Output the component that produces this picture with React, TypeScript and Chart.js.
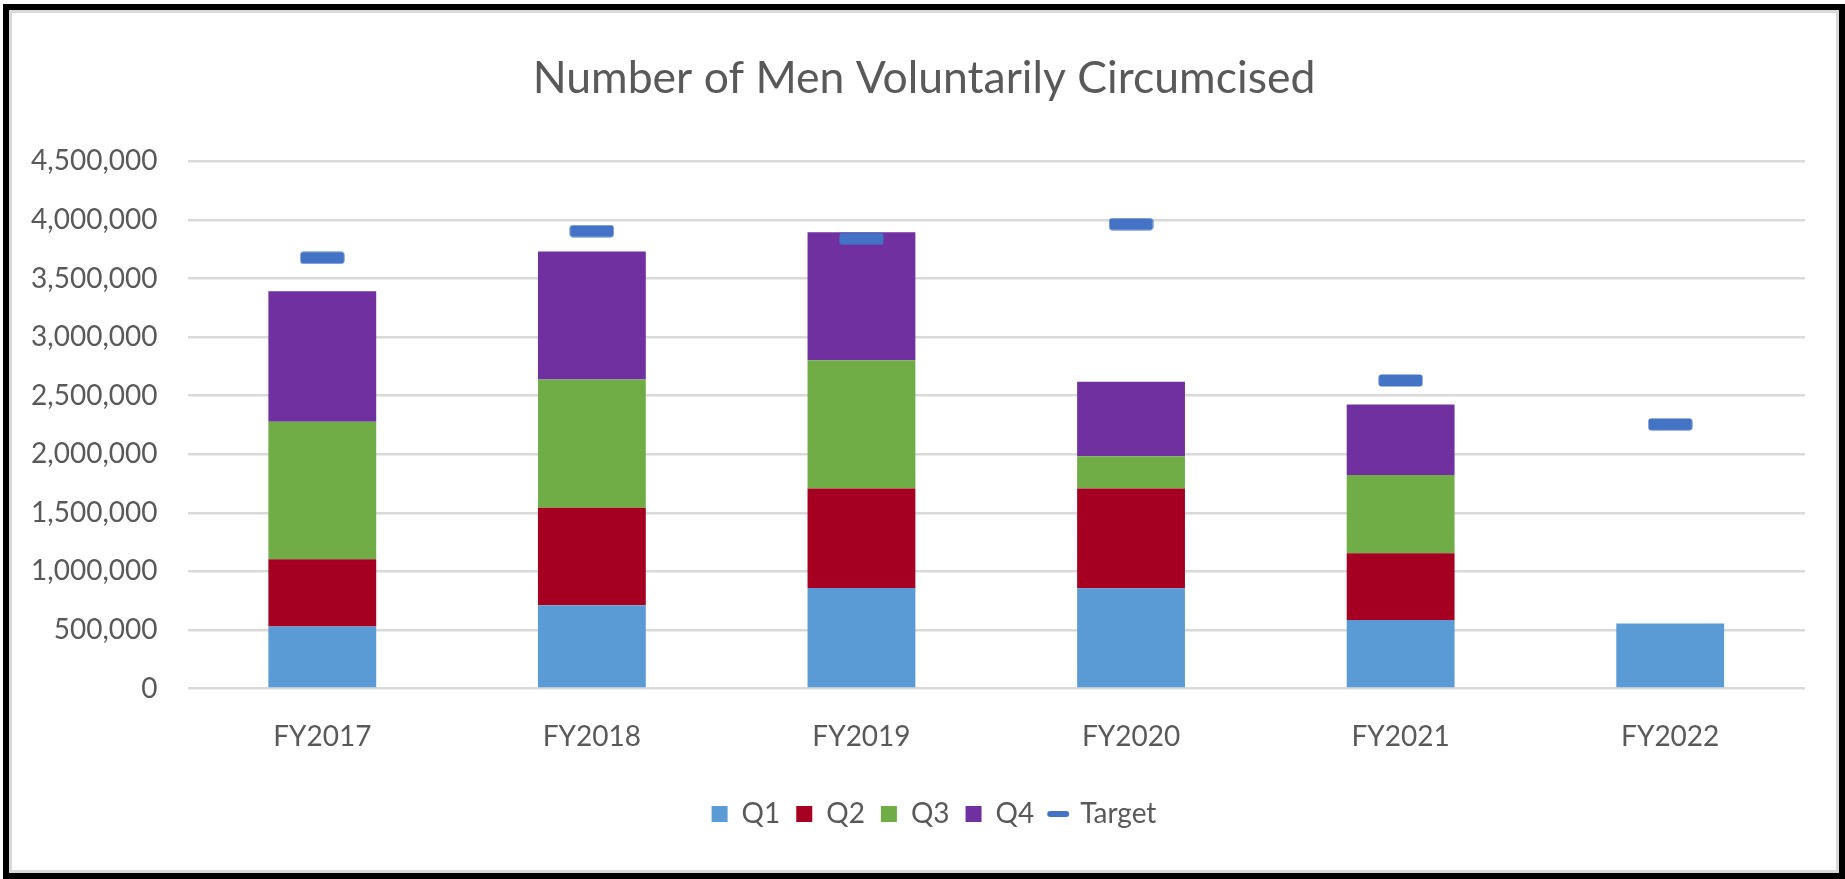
import React, { useEffect, useRef } from 'react';
import { Chart, registerables } from 'chart.js';

Chart.register(...registerables);

// ---- Data ----
const categories = ['FY2017', 'FY2018', 'FY2019', 'FY2020', 'FY2021', 'FY2022'];
const q1 = [530000, 710000, 857000, 856000, 585000, 555000];
const q2 = [573000, 833000, 851000, 852000, 569000, null];
const q3 = [1175000, 1094000, 1094000, 274000, 668000, null];
const q4 = [1114000, 1094000, 1094000, 637000, 603000, null];
const target = [3677000, 3905000, 3839000, 3965000, 2630000, 2255000];
const yAxisMin = 0;
const yAxisMax = 4500000;
const yAxisStep = 500000;

const TITLE = 'Number of Men Voluntarily Circumcised';
const TEXT_COLOR = '#595959';
const FONT = 'Lato';

function makeTargetMarker(): HTMLCanvasElement {
  const c = document.createElement('canvas');
  c.width = 45;
  c.height = 13;
  const ctx = c.getContext('2d')!;
  ctx.fillStyle = '#4472C4';
  ctx.beginPath();
  (ctx as any).roundRect(0.5, 0.5, 44, 12, 3);
  ctx.fill();
  return c;
}

// nudges the title and legend horizontally to where the reference places them
const shiftBoxes = {
  id: 'shiftBoxes',
  afterLayout(chart: any) {
    if (chart.legend) {
      chart.legend.left += 25.5;
      chart.legend.right += 25.5;
    }
    if (chart.titleBlock) {
      chart.titleBlock.left += 15.5;
      chart.titleBlock.right += 15.5;
    }
  },
};

export default function App() {
  const canvasRef = useRef<HTMLCanvasElement | null>(null);

  useEffect(() => {
    if (!canvasRef.current) return;
    const marker = makeTargetMarker();
    const chart = new Chart(canvasRef.current, {
      type: 'bar',
      data: {
        labels: categories,
        datasets: [
          { label: 'Q1', data: q1, backgroundColor: '#5B9BD5', stack: 'q', borderWidth: 0 },
          { label: 'Q2', data: q2, backgroundColor: '#A50021', stack: 'q', borderWidth: 0 },
          { label: 'Q3', data: q3, backgroundColor: '#70AD47', stack: 'q', borderWidth: 0 },
          { label: 'Q4', data: q4, backgroundColor: '#7030A0', stack: 'q', borderWidth: 0 },
          {
            type: 'line',
            label: 'Target',
            data: target,
            stack: 'target',
            showLine: false,
            pointStyle: marker as any,
            pointRadius: 6,
            pointHoverRadius: 6,
            backgroundColor: '#4472C4',
            borderColor: '#4472C4',
            order: -1,
          } as any,
        ],
      },
      plugins: [shiftBoxes],
      options: {
        animation: false,
        responsive: true,
        maintainAspectRatio: false,
        devicePixelRatio: 1,
        font: { family: FONT },
        layout: { padding: { left: 0, right: 31, top: 0, bottom: 32 } },
        datasets: {
          bar: { categoryPercentage: 0.4, barPercentage: 1 },
        },
        plugins: {
          tooltip: { enabled: false },
          title: {
            display: true,
            text: TITLE,
            color: TEXT_COLOR,
            font: { family: FONT, size: 44.5, weight: 'normal' },
            padding: { top: 39, bottom: 56 },
          },
          legend: {
            display: true,
            position: 'bottom',
            labels: {
              color: TEXT_COLOR,
              font: { family: FONT, size: 28 },
              usePointStyle: true,
              pointStyleWidth: 16,
              boxHeight: 16,
              boxWidth: 16,
              padding: 16,
              generateLabels: (ch: any) => {
                const items = (Chart.defaults.plugins.legend.labels as any).generateLabels(ch);
                items.sort((a: any, b: any) => a.datasetIndex - b.datasetIndex);
                return items.map((it: any) => {
                  if (it.datasetIndex === 4) {
                    return {
                      ...it,
                      pointStyle: 'line',
                      strokeStyle: '#4472C4',
                      fillStyle: '#4472C4',
                      lineWidth: 6,
                      lineCap: 'round',
                    };
                  }
                  return { ...it, pointStyle: 'rect', lineWidth: 0, strokeStyle: it.fillStyle };
                });
              },
            },
          },
        },
        scales: {
          x: {
            stacked: true,
            grid: { display: false, drawTicks: false },
            border: { display: false },
            ticks: {
              color: TEXT_COLOR,
              font: { family: FONT, size: 28 },
              padding: 32,
            },
            afterFit: (s: any) => {
              s.height = 95.5;
            },
          },
          y: {
            stacked: true,
            min: yAxisMin,
            max: yAxisMax,
            grid: { color: '#D9D9D9', lineWidth: 2.5, drawTicks: false },
            border: { display: false },
            ticks: {
              stepSize: yAxisStep,
              color: TEXT_COLOR,
              font: { family: FONT, size: 28 },
              padding: 30,
              callback: (v: any) => Number(v).toLocaleString('en-US'),
            },
            afterFit: (s: any) => {
              s.width = 175.5;
            },
          },
        },
      },
    });
    return () => chart.destroy();
  }, []);

  return (
    <div
      style={{
        position: 'absolute',
        left: 3,
        top: 4,
        width: 1842,
        height: 875,
        boxSizing: 'border-box',
        border: '6px solid #000',
        background: '#fff',
      }}
    >
      <div
        style={{
          width: '100%',
          height: '100%',
          boxSizing: 'border-box',
          border: '3px solid #D9D9D9',
          position: 'relative',
        }}
      >
        <div style={{ position: 'relative', width: 1824, height: 857 }}>
          <canvas ref={canvasRef} />
        </div>
      </div>
    </div>
  );
}
